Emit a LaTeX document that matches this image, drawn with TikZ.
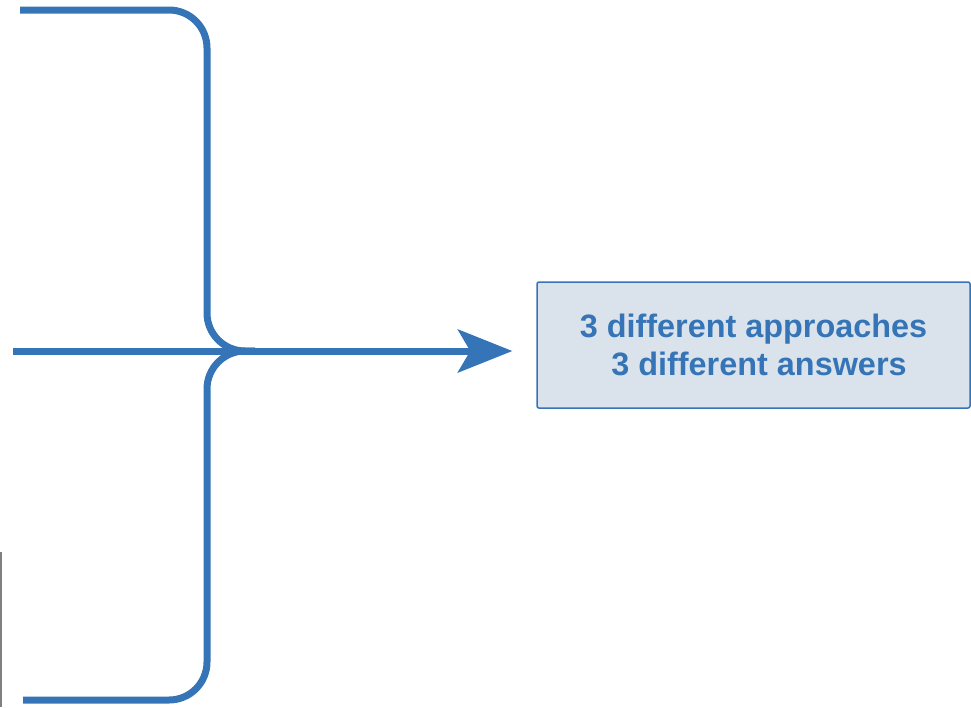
\documentclass[tikz,border=0pt]{standalone}
\usepackage{fontspec}
\setmainfont{Liberation Sans}
\usetikzlibrary{arrows.meta}
\definecolor{bblue}{HTML}{3574B6}
\definecolor{bfill}{HTML}{DAE3EB}
\tikzset{
  brace/.style={draw=bblue,line width=7pt,rounded corners=38pt},
  mainarrow/.style={draw=bblue,line width=7pt,-{Stealth[length=55pt,width=44pt,inset=13pt,line width=0pt]}},
  resultbox/.style={draw=bblue,line width=1.5pt,fill=bfill,rounded corners=2pt,minimum width=433pt,minimum height=126pt,inner sep=0pt,
    text=bblue,font=\bfseries\fontsize{32.4pt}{38pt}\selectfont,align=center}
}
\begin{document}
\begin{tikzpicture}[x=1pt,y=-1pt]
\useasboundingbox (0,0) rectangle (971,707);
\node[resultbox] (res) at (753.5,345) {3 different approaches\\\hspace*{11pt}3 different answers};
\coordinate (topstart) at (20,10);
\coordinate (botstart) at (23,700);
\coordinate (join) at (255,351);
\coordinate (mstart) at (13,351);
\draw[brace] (topstart) -- (207,10) -- (207,351) -- (join);
\draw[brace] (join) -- (207,351) -- (207,700) -- (botstart);
\draw[mainarrow] (mstart) -- (res.west |- mstart) [shorten >=24pt];
\draw[gray,line width=1.5pt] (0.75,552) -- (0.75,707);
\end{tikzpicture}
\end{document}
